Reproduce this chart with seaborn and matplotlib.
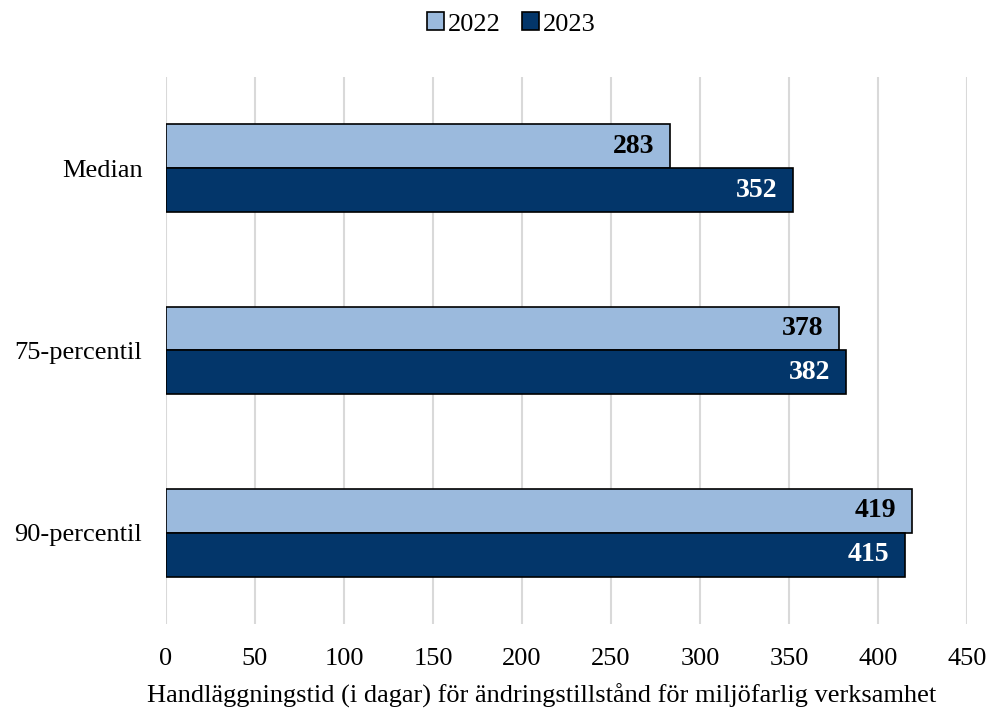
import matplotlib
matplotlib.use("Agg")
import matplotlib.pyplot as plt
import seaborn as sns
import pandas as pd

categories = ["Median", "75-percentil", "90-percentil"]
years = ["2022", "2023"]
values_2022 = [283, 378, 419]
values_2023 = [352, 382, 415]
xticks = [0, 50, 100, 150, 200, 250, 300, 350, 400, 450]

df = pd.DataFrame({
    "kategori": categories * 2,
    "år": [years[0]] * 3 + [years[1]] * 3,
    "dagar": values_2022 + values_2023,
})

sns.set_theme(style="white")
plt.rcParams["font.family"] = ["Liberation Serif", "DejaVu Serif"]
plt.rcParams["text.color"] = "black"
plt.rcParams["xtick.color"] = "black"
plt.rcParams["ytick.color"] = "black"
plt.rcParams["axes.labelcolor"] = "black"

colors = {"2022": "#9BBADD", "2023": "#03366A"}

fig = plt.figure(figsize=(9.92, 7.18), dpi=100)
ax = fig.add_axes([0.1673, 0.1309, 0.8075, 0.7619])

sns.barplot(data=df, y="kategori", x="dagar", hue="år", orient="h",
            palette=colors, width=0.48, edgecolor="black", linewidth=1.2,
            saturation=1, ax=ax, zorder=3)

ax.set_xlim(0, 450)
ax.set_ylim(2.5, -0.5)
ax.set_xticks(xticks)
ax.set_xticklabels([str(t) for t in xticks], fontsize=19)
ax.tick_params(axis="y", labelsize=19, length=0, pad=17)
ax.tick_params(axis="x", length=0, pad=17)
ax.grid(axis="x", color="#D9D9D9", linewidth=1.5, zorder=0)
ax.set_axisbelow(True)
for s in ax.spines.values():
    s.set_visible(False)
ax.set_ylabel("")
ax.set_xlabel("Handläggningstid (i dagar) för ändringstillstånd för miljöfarlig verksamhet",
              fontsize=19)
ax.xaxis.set_label_coords(0.469, -0.108)

for cont, col in zip(ax.containers, ["black", "white"]):
    for bar, v in zip(cont.patches, cont.datavalues):
        ax.annotate(f"{int(v)}", xy=(bar.get_x() + bar.get_width(), bar.get_y() + bar.get_height() / 2),
                    xytext=(-11, 0), textcoords="offset points", ha="right", va="center",
                    color=col, fontsize=20, fontweight="bold", zorder=4)

leg = ax.legend(loc="center", bbox_to_anchor=(0.431, 1.0 + 53 / 547), ncol=2,
                frameon=False, fontsize=19, handlelength=0.65, handleheight=0.65,
                handletextpad=0.15, columnspacing=0.8)
for h in leg.legend_handles:
    h.set_edgecolor("black")
    h.set_linewidth(1.2)

fig.savefig("out.png", dpi=100)
